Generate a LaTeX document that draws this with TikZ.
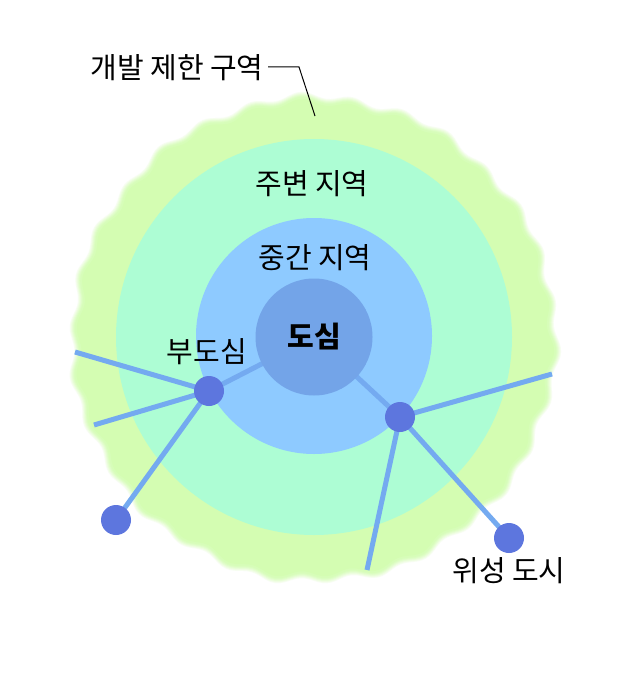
\documentclass[tikz,border=0pt]{standalone}
\usepackage{fontspec}
\setmainfont{Noto Sans CJK KR}
\pgfdeclarelayer{bg}
\pgfdeclarelayer{zones}
\pgfdeclarelayer{lines}
\pgfsetlayers{bg,zones,lines,main}
\definecolor{greenbelt}{RGB}{212,253,178}
\definecolor{mint}{RGB}{173,253,212}
\definecolor{midblue}{RGB}{142,202,255}
\definecolor{coreblue}{RGB}{115,164,232}
\definecolor{linkblue}{RGB}{116,170,240}
\definecolor{dotblue}{RGB}{93,118,222}
\tikzset{
  zone/.style={circle, inner sep=0pt, draw=none},
  dot/.style={circle, inner sep=0pt, minimum size=30pt, fill=dotblue},
  link/.style={draw=linkblue, line width=5pt},
  lbl/.style={inner sep=0pt, font=\fontsize{29}{34}\selectfont},
  leader/.style={draw=black, line width=1pt}
}
\begin{document}
\begin{tikzpicture}[x=1pt,y=-1pt]
\useasboundingbox (0,0) rectangle (642,676);
\begin{pgfonlayer}{bg}
\fill[white] (0,0) rectangle (642,676);
\end{pgfonlayer}
% soft wavy green belt
\begin{pgfonlayer}{zones}
\foreach \dr/\op in {5/0.18,4/0.2,3/0.25,2/0.3,1/0.4,0/0.5,-2/1} {
  \fill[greenbelt, opacity=\op] plot[domain=0:360, samples=361, smooth, variable=\t]
    ({314+(238+\dr+3*sin(30*\t)+1.5*sin(11*\t+40))*cos(\t)}, {339+(238+\dr+3*sin(30*\t)+1.5*sin(11*\t+40))*sin(\t)}) -- cycle;
}
\node[zone, fill=mint, minimum size=396pt] (outer) at (314,337) {};
\node[zone, fill=midblue, minimum size=236pt] (middle) at (314,336) {};
\end{pgfonlayer}
% core and nodes
\node[zone, fill=coreblue, minimum size=117pt] (core) at (314,337) {};
\node[dot] (sub) at (209,391) {};
\node[dot] (east) at (400,417) {};
\node[dot] (satW) at (116,520) {};
\node[dot] (satE) at (509,538) {};
\coordinate (subA) at (75,352);
\coordinate (subB) at (94,425);
\coordinate (eastA) at (552,374);
\coordinate (eastB) at (367,570);
\coordinate (leadA) at (268,67);
\coordinate (leadB) at (299,67);
\coordinate (leadC) at (315,116);
% links
\begin{pgfonlayer}{lines}
\draw[link] (sub.center) -- (core.center);
\draw[link] (sub.center) -- (subA);
\draw[link] (sub.center) -- (subB);
\draw[link] (sub.center) -- (satW.center);
\draw[link] (east.center) -- (core.center);
\draw[link] (east.center) -- (eastA);
\draw[link] (east.center) -- (eastB);
\draw[link] (east.center) -- (satE.center);
\end{pgfonlayer}
% labels
\node[lbl] (tgb) at (177,68) {개발 제한 구역};
\draw[leader] (leadA) -- (leadB) -- (leadC);
\node[lbl] (tout) at (312,184) {주변 지역};
\node[lbl] (tmid) at (315,258) {중간 지역};
\node[lbl, font=\fontsize{29}{34}\selectfont\bfseries] (tcore) at (314,337) {도심};
\node[lbl] (tsub) at (207,352) {부도심};
\node[lbl] (tsat) at (509,571) {위성 도시};
\end{tikzpicture}
\end{document}
